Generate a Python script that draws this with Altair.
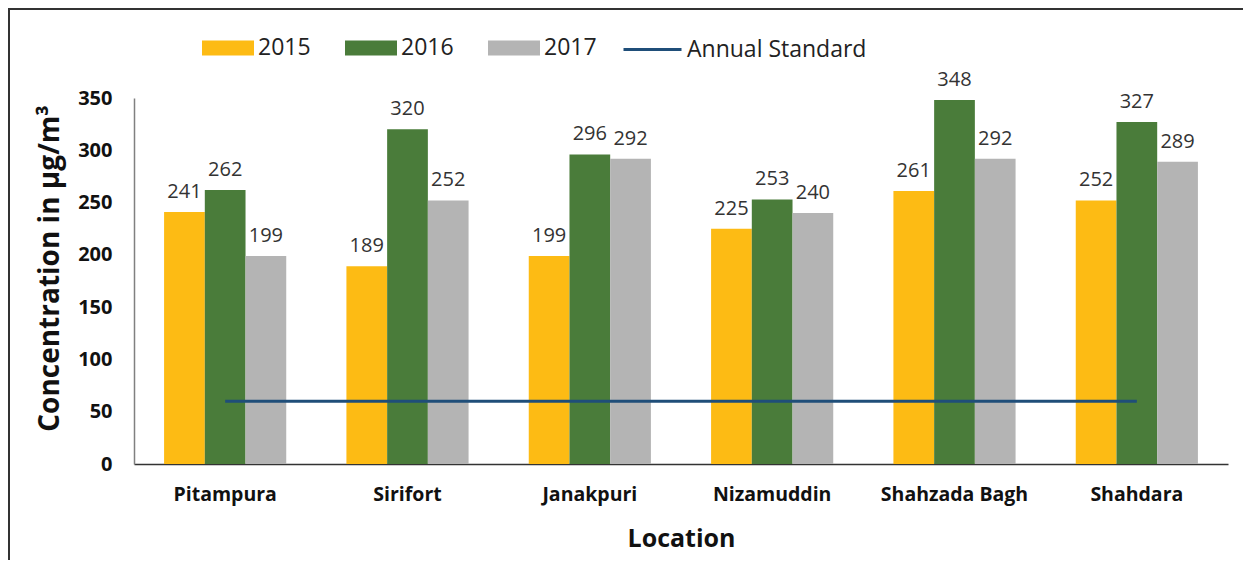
import altair as alt
import pandas as pd

locations = ["Pitampura", "Sirifort", "Janakpuri", "Nizamuddin", "Shahzada Bagh", "Shahdara"]
years = ["2015", "2016", "2017"]
v2015 = [241, 189, 199, 225, 261, 252]
v2016 = [262, 320, 296, 253, 348, 327]
v2017 = [199, 252, 292, 240, 292, 289]
standard = [60, 60, 60, 60, 60, 60]
year_colors = ["#FDBB14", "#4A7C3A", "#B4B4B4"]
line_color = "#1F4E79"
FONT = "Open Sans"

rows = []
for i, loc in enumerate(locations):
    for y, vals in zip(years, [v2015, v2016, v2017]):
        rows.append({"Location": loc, "Year": y, "Value": vals[i]})
bars_df = pd.DataFrame(rows)
line_df = pd.DataFrame({"Location": locations, "Value": standard, "Series": ["Annual Standard"] * len(locations)})
frame_df = pd.DataFrame({"a": [0]})

W, H = 1094, 366

x_enc = alt.X("Location:N", sort=locations,
              scale=alt.Scale(paddingInner=0.33, paddingOuter=0.165),
              axis=alt.Axis(title="Location", labelAngle=0, labelFont=FONT, labelFontSize=19.5,
                            labelFontWeight="bold", labelColor="#111", labelPadding=21, ticks=False,
                            domainColor="#333", domainWidth=1.5,
                            titleFont=FONT, titleFontSize=25, titleFontWeight="bold", titleColor="#111",
                            titleX=W / 2, titleY=74, titleBaseline="middle", titleAlign="center"))
y_enc = alt.Y("Value:Q", scale=alt.Scale(domain=[0, 350], nice=False),
              axis=alt.Axis(title="Concentration in µg/m³", values=list(range(0, 351, 50)),
                            grid=False, ticks=False, labelFont=FONT, labelFontSize=20,
                            labelFontWeight="bold", labelColor="#111", labelPadding=22,
                            domainColor="#808080", domainWidth=1.5,
                            titleFont=FONT, titleFontSize=28, titleFontWeight="bold", titleColor="#111",
                            titleAngle=270, titleX=-84, titleY=170, titleBaseline="middle",
                            titleAlign="center"))

bars = alt.Chart(bars_df).mark_bar().encode(
    x=x_enc,
    xOffset=alt.XOffset("Year:N", sort=years, scale=alt.Scale(paddingInner=0, paddingOuter=0)),
    y=y_enc,
    color=alt.Color("Year:N", sort=years,
                    scale=alt.Scale(domain=years, range=year_colors),
                    legend=alt.Legend(title=None, orient="none", direction="horizontal",
                                      legendX=68, legendY=-76, padding=0,
                                      symbolType="M-1,-0.29H1V0.29H-1Z", symbolSize=2704,
                                      symbolStrokeWidth=0, labelFont=FONT, labelFontSize=23,
                                      labelColor="#222", labelOffset=4, columnPadding=34,
                                      labelLimit=400)),
)

labels = alt.Chart(bars_df).mark_text(font=FONT, fontSize=20, color="#333", dy=-14,
                                      baseline="alphabetic").encode(
    x=alt.X("Location:N", sort=locations),
    xOffset=alt.XOffset("Year:N", sort=years),
    y=alt.Y("Value:Q"),
    text=alt.Text("Value:Q"),
)

line = alt.Chart(line_df).mark_line(strokeWidth=3).encode(
    x=alt.X("Location:N", sort=locations),
    y=alt.Y("Value:Q"),
    stroke=alt.Stroke("Series:N", scale=alt.Scale(domain=["Annual Standard"], range=[line_color]),
                      legend=alt.Legend(title=None, orient="none", direction="horizontal",
                                        legendX=488, legendY=-79, padding=0,
                                        symbolType="stroke", symbolSize=3364, symbolStrokeWidth=3,
                                        labelFont=FONT, labelFontSize=23, labelColor="#222",
                                        labelOffset=4, labelLimit=400)),
)

frame = alt.Chart(frame_df).mark_rect(fill="transparent", stroke="#333", strokeWidth=2).encode(
    x=alt.value(-125), x2=alt.value(1300), y=alt.value(-89), y2=alt.value(700)
)

chart = alt.layer(frame, bars, labels, line).properties(
    width=W, height=H,
    background="white",
    autosize=alt.AutoSizeParams(type="none"),
    padding={"left": 126, "top": 90, "right": 15, "bottom": 96},
).configure_view(stroke=None, strokeWidth=0)

chart.save("out.html", embed_options={"renderer": "svg", "actions": False})
